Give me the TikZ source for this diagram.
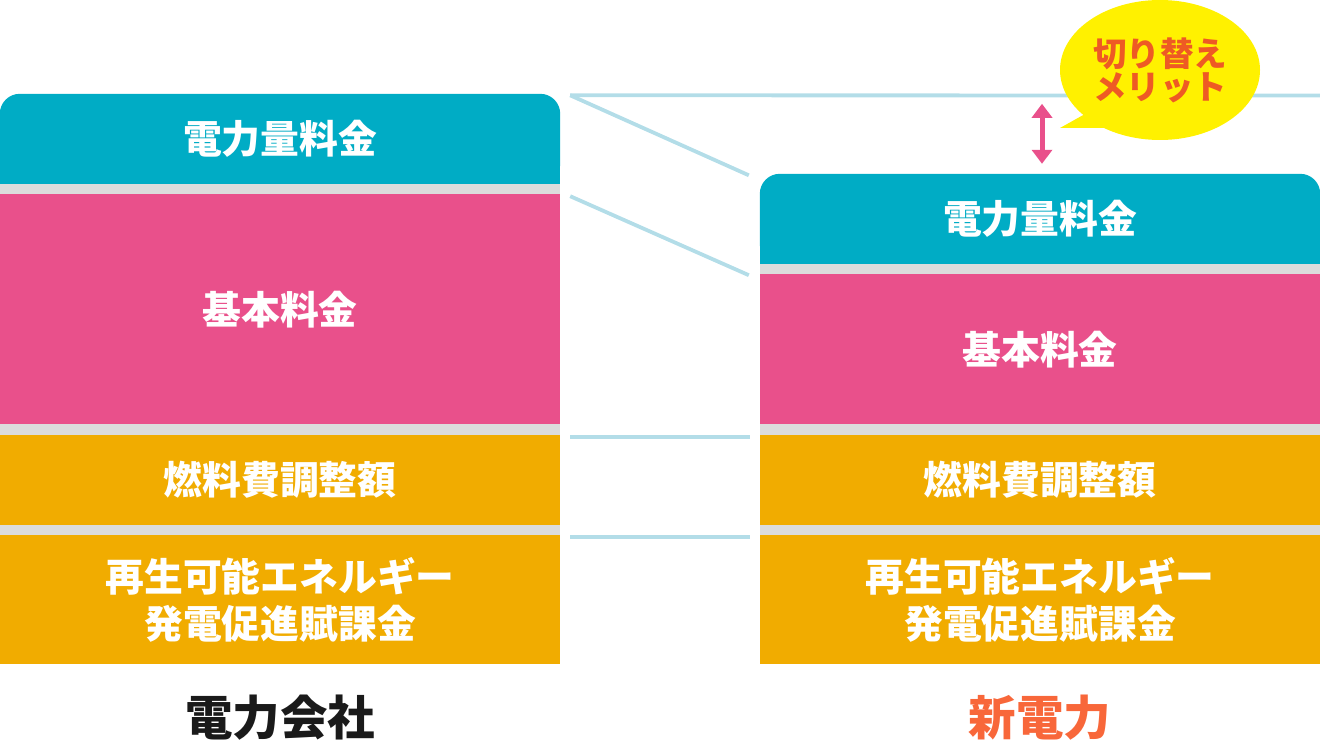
\documentclass[tikz,border=0pt]{standalone}
\usepackage{fontspec}
\newfontfamily\jp{Noto Sans CJK JP}
\usetikzlibrary{positioning,shapes.geometric,arrows.meta,backgrounds}
\definecolor{kwhteal}{HTML}{00ACC5}
\definecolor{basepink}{HTML}{E9508B}
\definecolor{fuelorange}{HTML}{F1AC00}
\definecolor{gapgray}{HTML}{DCDCDC}
\definecolor{linkblue}{HTML}{B3DDE8}
\definecolor{gainpink}{HTML}{E9508B}
\definecolor{merityellow}{HTML}{FFF100}
\definecolor{merittext}{HTML}{EE5A24}
\definecolor{oldblack}{HTML}{1A1A1A}
\definecolor{newred}{HTML}{F8673A}
\tikzset{
	band/.style={minimum width=560pt,inner sep=0pt,text=white,align=center,font=\jp\bfseries\fontsize{38.8}{47}\selectfont},
	link/.style={draw=linkblue,line width=3.8pt},
	gain/.style={draw=gainpink,line width=5pt,{Triangle[width=20pt,length=14pt]}-{Triangle[width=20pt,length=14pt]}},
	bubble/.style={ellipse,fill=merityellow,minimum width=200pt,minimum height=140pt,inner sep=0pt,text=merittext,align=center,font=\jp\bfseries\fontsize{33.5}{33}\selectfont},
	company/.style={font=\jp\bfseries\fontsize{47.5}{47.5}\selectfont},
}
\begin{document}
\begin{tikzpicture}[x=1pt,y=1pt]
	\useasboundingbox (0,0) rectangle (1320,740);
\node[band,minimum height=90pt] (lkwh) at (280,601) {電力量料金};
\node[band,fill=basepink,minimum height=230pt,below=10pt of lkwh] (lbase) {基本料金};
\node[band,fill=fuelorange,minimum height=90pt,below=10pt of lbase] (lfuel) {燃料費調整額};
\node[band,fill=fuelorange,minimum height=129pt,below=10pt of lfuel] (lrenew) {再生可能エネルギー\\発電促進賦課金};
\node[band,minimum height=90pt] (rkwh) at (1040,521) {電力量料金};
\node[band,fill=basepink,minimum height=150pt,below=10pt of rkwh] (rbase) {基本料金};
\node[band,fill=fuelorange,minimum height=90pt,below=10pt of rbase] (rfuel) {燃料費調整額};
\node[band,fill=fuelorange,minimum height=129pt,below=10pt of rfuel] (rrenew) {再生可能エネルギー\\発電促進賦課金};
\begin{scope}[on background layer]
	\fill[kwhteal,rounded corners=20pt] (lkwh.south west) rectangle (lkwh.north east);
	\fill[kwhteal] (lkwh.south west) rectangle (lkwh.east);
	\fill[gapgray] (lkwh.south west) rectangle (lrenew.north east);
	\fill[kwhteal,rounded corners=20pt] (rkwh.south west) rectangle (rkwh.north east);
	\fill[kwhteal] (rkwh.south west) rectangle (rkwh.east);
	\fill[gapgray] (rkwh.south west) rectangle (rrenew.north east);
\end{scope}
\coordinate (edge) at (1320,644.5);
\draw[link] ([shift={(10pt,-1.5pt)}]lkwh.north east) -- (edge);
\draw[link] ([shift={(10pt,-1.5pt)}]lkwh.north east) -- ([shift={(-11pt,-1.5pt)}]rkwh.north west);
\draw[link] ([shift={(10pt,-2pt)}]lbase.north east) -- ([shift={(-11pt,-1pt)}]rbase.north west);
\draw[link] ([shift={(10pt,-2pt)}]lfuel.north east) -- ([shift={(-10pt,-2pt)}]rfuel.north west);
\draw[link] ([shift={(10pt,-2pt)}]lrenew.north east) -- ([shift={(-10pt,-2pt)}]rrenew.north west);
\draw[gain] ([shift={(2pt,10pt)}]rkwh.north) -- ([shift={(2pt,70pt)}]rkwh.north);
\coordinate (tail) at (1060,612);
\fill[merityellow] (tail) -- (1085,626) -- (1112,612) -- cycle;
\node[bubble] (merit) at (1160,670) {\raisebox{-2pt}{切り替え}\\\raisebox{-2pt}{メリット}};
\node[company,text=oldblack] (lname) at (280,22) {電力会社};
\node[company,text=newred] (rname) at (1040,22) {新電力};
\end{tikzpicture}
\end{document}
